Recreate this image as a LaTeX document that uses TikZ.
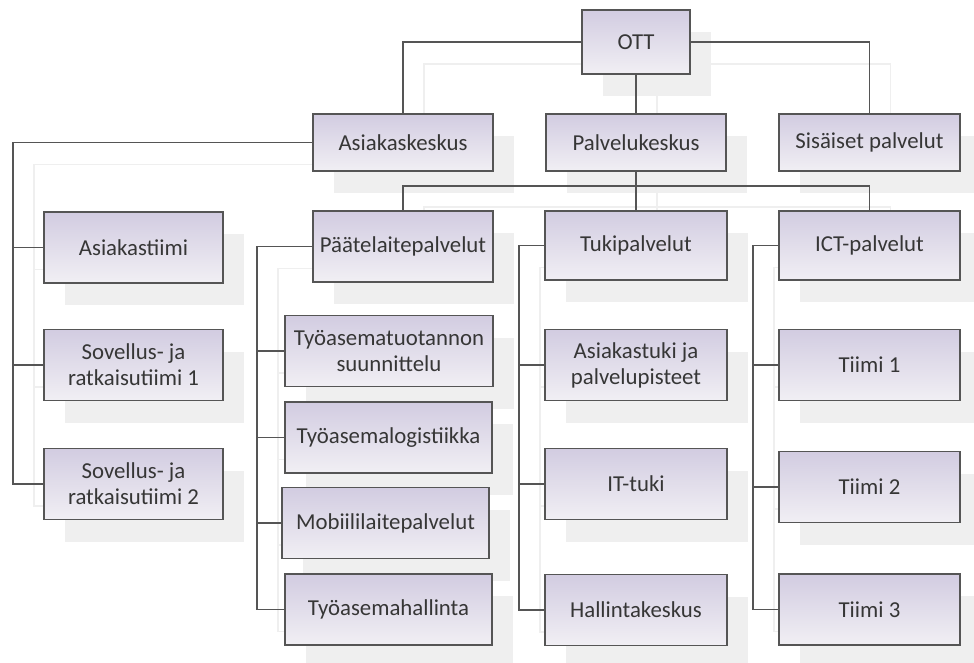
\documentclass[tikz,border=0pt]{standalone}
\usepackage{fontspec}
\setmainfont{Carlito}
\pgfdeclarelayer{shade}
\pgfdeclarelayer{links}
\pgfsetlayers{shade,links,main}
\begin{document}
\definecolor{boxtop}{HTML}{D2CCE1}
\definecolor{boxbot}{HTML}{F1EFF4}
\definecolor{edge}{HTML}{555555}
\definecolor{ink}{HTML}{363636}
\definecolor{ghost}{HTML}{EFEFEF}
\newcommand\boxtext[1]{#1}
% the whole chart; drawn twice: once as a soft offset shadow, once on top
\newcommand\orgchart{%
  \node[box, minimum width=108, minimum height=64] (ott) at (636,42) {\boxtext{OTT}};
  \node[box, minimum width=180, minimum height=57] (ask) at (403,142.5) {\boxtext{Asiakaskeskus}};
  \node[box, minimum width=180, minimum height=57] (pk)  at (636,142.5) {\boxtext{Palvelukeskus}};
  \node[box, minimum width=181, minimum height=57] (sis) at (869.5,142.5) {\boxtext{Sisäiset palvelut}};
  % customer centre teams
  \node[box, minimum width=179, minimum height=71] (at) at (133.5,247.5) {\boxtext{Asiakastiimi}};
  \node[box, minimum width=179, minimum height=71] (s1) at (133.5,365) {\boxtext{Sovellus- ja\\ratkaisutiimi 1}};
  \node[box, minimum width=179, minimum height=71] (s2) at (133.5,484) {\boxtext{Sovellus- ja\\ratkaisutiimi 2}};
  % terminal device services
  \node[box, minimum width=180, minimum height=71] (pta) at (403,246.5) {\boxtext{Päätelaitepalvelut}};
  \node[box, minimum width=208, minimum height=71] (tyt) at (389,351) {\boxtext{Työasematuotannon\\suunnittelu}};
  \node[box, minimum width=207, minimum height=71] (tyl) at (388.5,437.5) {\boxtext{Työasemalogistiikka}};
  \node[box, minimum width=207, minimum height=71] (mob) at (385.5,523) {\boxtext{Mobiililaitepalvelut}};
  \node[box, minimum width=207, minimum height=71] (tyh) at (388.5,609.5) {\boxtext{Työasemahallinta}};
  % support services
  \node[box, minimum width=182, minimum height=69] (tuk) at (636,245.5) {\boxtext{Tukipalvelut}};
  \node[box, minimum width=182, minimum height=71] (ast) at (636,365) {\boxtext{Asiakastuki ja\\palvelupisteet}};
  \node[box, minimum width=182, minimum height=71] (itt) at (636,484) {\boxtext{IT-tuki}};
  \node[box, minimum width=182, minimum height=71] (hal) at (636,610) {\boxtext{Hallintakeskus}};
  % ICT services
  \node[box, minimum width=181, minimum height=69] (ict) at (869.5,245.5) {\boxtext{ICT-palvelut}};
  \node[box, minimum width=181, minimum height=71] (t1) at (869.5,365) {\boxtext{Tiimi 1}};
  \node[box, minimum width=181, minimum height=71] (t2) at (869.5,487) {\boxtext{Tiimi 2}};
  \node[box, minimum width=181, minimum height=71] (t3) at (869.5,609.5) {\boxtext{Tiimi 3}};
}
\newcommand\orglinks{%
  \draw[conn] (ott.west) -| (ask.north);
  \draw[conn] (ott.east) -| (sis.north);
  \draw[conn] (ott.south) -- (pk.north);
  \draw[conn] (pk.south) -- ++(0,14) coordinate (bus);
  \draw[conn] (bus) -| (pta.north);
  \draw[conn] (bus) -| (ict.north);
  \draw[conn] (bus) -- (tuk.north);
  % left-hand spines
  \coordinate (spA) at (13,142.5);
  \draw[conn] (ask.west) -- (spA) |- (s2.west);
  \draw[conn] (spA |- at.west) -- (at.west);
  \draw[conn] (spA |- s1.west) -- (s1.west);
  \coordinate (spP) at (257,246.5);
  \draw[conn] (pta.west) -- (spP) |- (tyh.west);
  \draw[conn] (spP |- tyt.west) -- (tyt.west);
  \draw[conn] (spP |- tyl.west) -- (tyl.west);
  \draw[conn] (spP |- mob.west) -- (mob.west);
  \coordinate (spT) at (519,245.5);
  \draw[conn] (tuk.west) -- (spT) |- (hal.west);
  \draw[conn] (spT |- ast.west) -- (ast.west);
  \draw[conn] (spT |- itt.west) -- (itt.west);
  \coordinate (spI) at (753,245.5);
  \draw[conn] (ict.west) -- (spI) |- (t3.west);
  \draw[conn] (spI |- t1.west) -- (t1.west);
  \draw[conn] (spI |- t2.west) -- (t2.west);
}
\begin{tikzpicture}[x=1pt, y=-1pt,
  box/.style={draw=edge, line width=1.5pt, top color=boxtop, bottom color=boxbot,
    inner sep=2pt, align=center, text=ink,
    font=\fontsize{22.8}{26}\selectfont},
  conn/.style={draw=edge, line width=1.6pt}]
  \useasboundingbox (0,0) rectangle (974,663);
  % offset shadow of boxes and lines, without text
  \begin{pgfonlayer}{shade}
  \begin{scope}[shift={(21,22)}, name prefix=sh-,
      box/.style={draw=none, fill=ghost, inner sep=2pt},
      conn/.style={draw=ghost, line width=1.6pt}]
    \renewcommand\boxtext[1]{}
    \orgchart
    \orglinks
  \end{scope}
  \end{pgfonlayer}
  % chart boxes, with their connectors underneath
  \orgchart
  \begin{pgfonlayer}{links}
    \orglinks
  \end{pgfonlayer}
\end{tikzpicture}
\end{document}
